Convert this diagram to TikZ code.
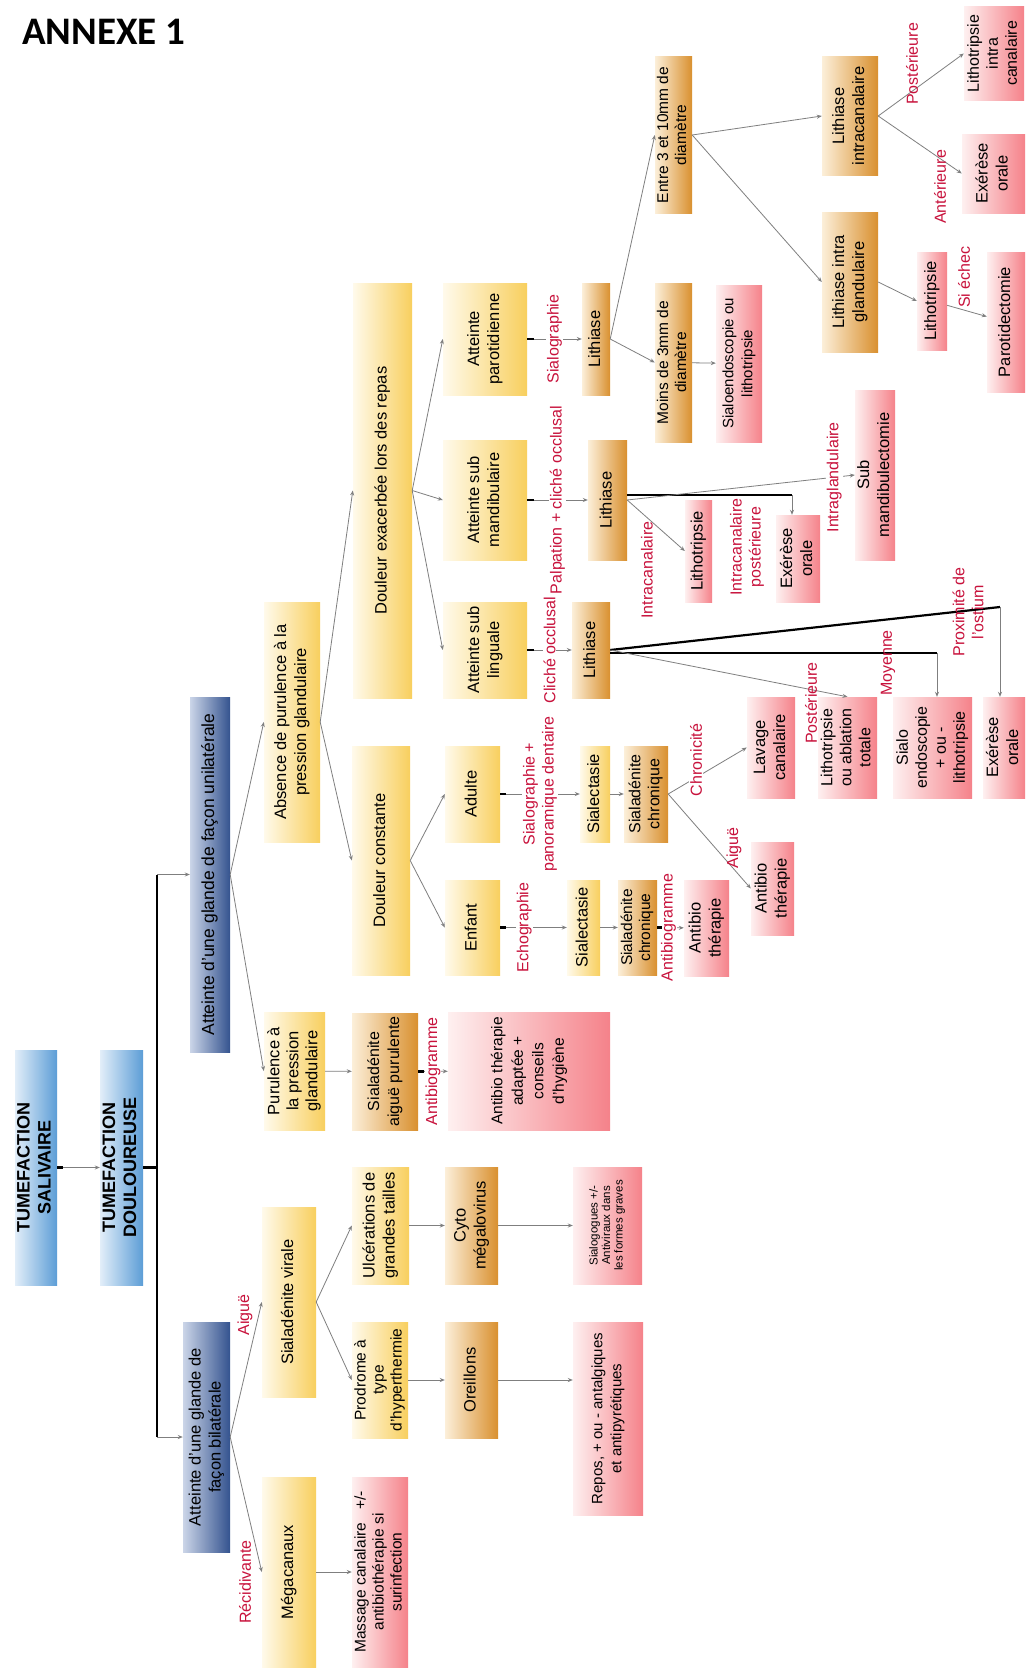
\documentclass[tikz,border=0pt]{standalone}
\usepackage{fontspec}
\setmainfont{Liberation Sans}
\newfontfamily\titlefont{Carlito}
\usepackage{graphicx}
\usepackage{xcolor}
\usepackage{tikz}
\usetikzlibrary{arrows.meta,positioning}
\definecolor{yelL}{HTML}{FFFAEB}
\definecolor{yelR}{HTML}{F8CF5E}
\definecolor{orgL}{HTML}{FCEFD9}
\definecolor{orgR}{HTML}{D9902F}
\definecolor{pnkL}{HTML}{FEF0F0}
\definecolor{pnkR}{HTML}{F5828A}
\definecolor{bluL}{HTML}{E2EEF9}
\definecolor{bluR}{HTML}{5C9DD6}
\definecolor{navL}{HTML}{CBD5E8}
\definecolor{navR}{HTML}{34538F}
\definecolor{labred}{HTML}{C8123C}
\definecolor{lineg}{HTML}{7F7F7F}
\newcommand{\vt}[1]{\rotatebox{90}{\begin{tabular}{@{}c@{}}#1\end{tabular}}}

\begin{document}
\begin{tikzpicture}[x=1pt, y=-1pt,
        cellbox/.style={draw=none, inner sep=0pt, font=\fontsize{16.5}{20}\selectfont},
        ybox/.style={cellbox, left color=yelL, right color=yelR},
        obox/.style={cellbox, left color=orgL, right color=orgR},
        pbox/.style={cellbox, left color=pnkL, right color=pnkR},
        lbox/.style={cellbox, left color=bluL, right color=bluR, font=\fontsize{18}{21}\selectfont\bfseries},
        nbox/.style={cellbox, left color=navL, right color=navR},
        arrow/.style={-{Stealth[length=5pt,width=4pt]}, lineg, line width=0.8pt},
        stub/.style={black, line width=2.5pt},
        bar/.style={black, line width=2.2pt},
        elabel/.style={rotate=90, text=labred, font=\fontsize{16}{19}\selectfont, inner sep=1pt, align=center},
        onlabel/.style={elabel, fill=white}
    ]
        \fill[white] (0,0) rectangle (1029,1670);
        \useasboundingbox (0,0) rectangle (1029,1670);

        \node[anchor=base west, inner sep=0pt, font=\titlefont\bfseries\fontsize{39}{39}\selectfont] (title) at (22,45) {ANNEXE 1};

        % root and first split
        \node[lbox, minimum width=42pt, minimum height=235pt] (sal) at (36,1167.5) {\vt{TUMEFACTION\\SALIVAIRE}};
        \node[lbox, minimum width=43pt, minimum height=235pt] (dou) at (121.5,1167.5) {\vt{TUMEFACTION\\DOULOUREUSE}};
        \node[nbox, minimum width=40pt, minimum height=355pt, font=\fontsize{17.5}{21}\selectfont] (uni) at (210,874.5) {\vt{Atteinte d'une glande de façon unilatérale}};
        \node[nbox, minimum width=47pt, minimum height=230pt] (bil) at (206.5,1437) {\vt{Atteinte d'une glande de\\façon bilatérale}};

        \node[ybox, minimum width=56pt, minimum height=240pt] (abs) at (292,722) {\vt{Absence de purulence à la\\pression glandulaire}};
        \node[ybox, minimum width=61pt, minimum height=118pt, font=\fontsize{16.5}{19}\selectfont] (pur) at (294.5,1071) {\vt{Purulence à\\la pression\\glandulaire}};
        \node[ybox, minimum width=54pt, minimum height=190pt] (vir) at (289,1302) {\vt{Sialadénite virale}};
        \node[ybox, minimum width=54pt, minimum height=190pt] (meg) at (289,1572) {\vt{Mégacanaux}};

        \node[ybox, minimum width=59pt, minimum height=415pt] (dex) at (382.5,490.5) {\vt{Douleur exacerbée lors des repas}};
        \node[ybox, minimum width=58pt, minimum height=229pt] (dco) at (381,860.5) {\vt{Douleur constante}};
        \node[obox, minimum width=66pt, minimum height=117pt, font=\fontsize{16}{20}\selectfont] (sap) at (385,1071.5) {\vt{Sialadénite\\aiguë purulente}};
        \node[ybox, minimum width=57pt, minimum height=117pt] (ulc) at (380.5,1225.5) {\vt{Ulcérations de\\grandes tailles}};
        \node[ybox, minimum width=56pt, minimum height=116pt, font=\fontsize{15.5}{18}\selectfont] (pro) at (380,1380) {\vt{Prodrome à\\type\\d'hyperthermie}};
        \node[pbox, minimum width=56pt, minimum height=190pt, font=\fontsize{15.5}{18}\selectfont] (mas) at (380,1572) {\vt{Massage canalaire\ \ \ +/-\\antibiothérapie si\\surinfection}};

        % atteintes and children
        \node[ybox, minimum width=84pt, minimum height=112pt] (apa) at (485,339) {\vt{Atteinte\\parotidienne}};
        \node[ybox, minimum width=84pt, minimum height=120pt] (asm) at (485,500) {\vt{Atteinte sub\\mandibulaire}};
        \node[ybox, minimum width=84pt, minimum height=96pt] (asl) at (485,650) {\vt{Atteinte sub\\linguale}};
        \node[ybox, minimum width=55pt, minimum height=96pt] (adu) at (472.5,794) {\vt{Adulte}};
        \node[ybox, minimum width=55pt, minimum height=95pt] (enf) at (472.5,927.5) {\vt{Enfant}};
        \node[pbox, minimum width=162pt, minimum height=118pt, font=\fontsize{15.5}{20.5}\selectfont] (aba) at (529,1071) {\vt{Antibio thérapie\\adaptée +\\conseils\\d'hygiène}};
        \node[obox, minimum width=53pt, minimum height=117pt] (cyt) at (471.5,1225.5) {\vt{Cyto\\mégalovirus}};
        \node[obox, minimum width=53pt, minimum height=116pt] (ore) at (471.5,1380) {\vt{Oreillons}};

        \node[obox, minimum width=28pt, minimum height=112pt] (lip) at (596,339) {\vt{Lithiase}};
        \node[obox, minimum width=39pt, minimum height=120pt] (lism) at (607.5,500) {\vt{Lithiase}};
        \node[obox, minimum width=38pt, minimum height=96pt] (lisl) at (591,650) {\vt{Lithiase}};
        \node[ybox, minimum width=30pt, minimum height=96pt] (sea) at (595,794) {\vt{Sialectasie}};
        \node[obox, minimum width=44pt, minimum height=96pt, font=\fontsize{16}{19}\selectfont] (sca) at (646,794) {\vt{Sialadénite\\chronique}};
        \node[ybox, minimum width=33pt, minimum height=95pt] (sec) at (583.5,927.5) {\vt{Sialectasie}};
        \node[obox, minimum width=39pt, minimum height=95pt, font=\fontsize{15.5}{18}\selectfont] (scc) at (637.5,927.5) {\vt{Sialadénite\\chronique}};
        \node[pbox, minimum width=69pt, minimum height=117pt, font=\fontsize{11.5}{12.5}\selectfont] (sgo) at (607.5,1225.5) {\vt{Sialogogues +/-\\Antiviraux dans\\les formes graves}};
        \node[pbox, minimum width=70pt, minimum height=193pt, font=\fontsize{15}{19}\selectfont] (rep) at (608,1418.5) {\vt{Repos, + ou - antalgiques\\et antipyrétiques}};

        % parotid branch
        \node[obox, minimum width=37pt, minimum height=156pt, font=\fontsize{15.5}{18}\selectfont] (ent) at (673.5,135) {\vt{Entre 3 et 10mm de\\diamètre}};
        \node[obox, minimum width=37pt, minimum height=159pt, font=\fontsize{15.5}{18}\selectfont] (moi) at (673.5,362.5) {\vt{Moins de 3mm de\\diamètre}};
        \node[pbox, minimum width=46pt, minimum height=157pt, font=\fontsize{15}{19}\selectfont] (sen) at (739,363.5) {\vt{Sialoendoscopie ou\\lithotripsie}};
        \node[obox, minimum width=56pt, minimum height=118pt] (lic) at (850,116) {\vt{Lithiase\\intracanalaire}};
        \node[obox, minimum width=56pt, minimum height=140pt] (lig) at (850,282) {\vt{Lithiase intra\\glandulaire}};
        \node[pbox, minimum width=60pt, minimum height=93pt, font=\fontsize{16}{19}\selectfont] (lit) at (994,53.5) {\vt{Lithotripsie\\intra\\canalaire}};
        \node[pbox, minimum width=63pt, minimum height=79pt] (exp) at (993.5,173.5) {\vt{Exérèse\\orale}};
        \node[pbox, minimum width=30pt, minimum height=98pt] (ltg) at (932,301) {\vt{Lithotripsie}};
        \node[pbox, minimum width=38pt, minimum height=140pt] (par) at (1006,322) {\vt{Parotidectomie}};

        % sub mandibular and sub lingual branch
        \node[pbox, minimum width=27pt, minimum height=102pt] (ltp) at (698.5,551) {\vt{Lithotripsie}};
        \node[pbox, minimum width=44pt, minimum height=87pt] (exs) at (798,558.5) {\vt{Exérèse\\orale}};
        \node[pbox, minimum width=38pt, minimum height=170pt] (smd) at (875,475) {\vt{Sub\\mandibulectomie}};
        \node[pbox, minimum width=59pt, minimum height=101pt, font=\fontsize{16}{19}\selectfont] (loa) at (847.5,747.5) {\vt{Lithotripsie\\ou ablation\\totale}};
        \node[pbox, minimum width=79pt, minimum height=101pt, font=\fontsize{16}{19}\selectfont] (sel) at (932.5,747.5) {\vt{Sialo\\endoscopie\\+ ou -\\lithotripsie}};
        \node[pbox, minimum width=42pt, minimum height=101pt] (exl) at (1004,747.5) {\vt{Exérèse\\orale}};

        % adult and child branch
        \node[pbox, minimum width=48pt, minimum height=101pt] (lav) at (771,747.5) {\vt{Lavage\\canalaire}};
        \node[pbox, minimum width=43pt, minimum height=93pt] (ata) at (772.5,888.5) {\vt{Antibio\\thérapie}};
        \node[pbox, minimum width=45pt, minimum height=96pt] (atc) at (706.5,928) {\vt{Antibio\\thérapie}};

        % connectors
        \draw[arrow] (sal) -- (dou);
        \coordinate (brmid) at (157,1167.5);
        \coordinate (brtop) at (157,874.5);
        \coordinate (brbot) at (157,1437);
        \draw[bar] (dou.east) -- (brmid);
        \draw[bar] (brtop) -- (brbot);
        \draw[arrow] (brtop) -- (uni);
        \draw[arrow] (brbot) -- (bil);

        \draw[arrow] (uni.east) -- (abs.west);
        \draw[arrow] (uni.east) -- (pur.west);
        \draw[arrow] (abs.east) -- (dex.west);
        \draw[arrow] (abs.east) -- (dco.west);
        \draw[arrow] (pur) -- (sap);
        \draw[arrow] (sap) -- node[onlabel] (lbab1) {Antibiogramme} (aba);

        \draw[arrow] (dex.east) -- (apa.west);
        \draw[arrow] (dex.east) -- (asm.west);
        \draw[arrow] (dex.east) -- (asl.west);
        \draw[arrow] (apa) -- node[onlabel] (lbsia) {Sialographie} (lip);
        \draw[arrow] (asm) -- node[onlabel] (lbpal) {Palpation + cliché occlusal} (lism);
        \draw[arrow] (asl) -- node[onlabel] (lbcli) {Cliché occlusal} (lisl);

        \draw[arrow] (dco.east) -- (adu.west);
        \draw[arrow] (dco.east) -- (enf.west);
        \draw[arrow] (adu) -- node[onlabel] (lbpan) {Sialographie +\\panoramique dentaire} (sea);
        \draw[arrow] (sea) -- (sca);
        \draw[arrow] (sca.east) -- (lav.west);
        \draw[arrow] (sca.east) -- (ata.west);
        \node[onlabel] (lbchr) at (696,760) {Chronicité};
        \node[elabel] (lbaig) at (734,848) {Aiguë};
        \draw[arrow] (enf) -- node[onlabel, pos=0.36] (lbech) {Echographie} (sec);
        \draw[arrow] (sec) -- (scc);
        \draw[arrow] (scc) -- node[onlabel, pos=0.42] (lbab2) {Antibiogramme} (atc);

        \draw[arrow] (lip.east) -- (ent.west);
        \draw[arrow] (lip.east) -- (moi.west);
        \draw[arrow] (moi) -- (sen);
        \draw[arrow] (ent.east) -- (lic.west);
        \draw[arrow] (ent.east) -- (lig.west);
        \draw[arrow] (lic.east) -- (lit.west);
        \draw[arrow] (lic.east) -- (exp.west);
        \node[elabel] (lbpos) at (912,64) {Postérieure};
        \node[elabel] (lbant) at (940,187) {Antérieure};
        \draw[arrow] (lig.east) -- (ltg.west);
        \draw[arrow] (ltg) -- (par);
        \node[elabel] (lbsie) at (964,277) {Si échec};

        \coordinate (kexs) at (792,495);
        \draw[bar] (lism.east |- kexs) -- (kexs);
        \draw[arrow] (kexs) -- (kexs |- exs.north);
        \draw[arrow] (lism.east) -- node[onlabel, pos=0.91] (lbigl) {Intraglandulaire} (smd.west);
        \node[elabel] (lbicp) at (747,547) {Intracanalaire\\postérieure};
        \draw[arrow] (lism.east) -- (ltp.west);
        \node[elabel] (lbica) at (647,570) {Intracanalaire};

        \coordinate (kexl) at (1000,607);
        \coordinate (ksel) at (937,653);
        \draw[bar] (lisl.east) -- (kexl);
        \draw[bar] (lisl.east |- ksel) -- (ksel);
        \draw[arrow] (kexl) -- (kexl |- exl.north);
        \draw[arrow] (ksel) -- (ksel |- sel.north);
        \draw[arrow] (lisl.east) -- (loa.north);
        \node[elabel] (lbpo2) at (811,703) {Postérieure};
        \node[elabel] (lbmoy) at (888,663) {Moyenne};
        \node[elabel] (lbpro) at (968,612) {Proximité de\\l'ostium};

        \draw[arrow] (bil.east) -- (vir.west);
        \draw[arrow] (bil.east) -- (meg.west);
        \node[elabel] (lbag2) at (245,1315) {Aiguë};
        \node[elabel] (lbrec) at (245,1582) {Récidivante};
        \draw[arrow] (vir.east) -- (ulc.west);
        \draw[arrow] (vir.east) -- (pro.west);
        \draw[arrow] (ulc) -- (cyt);
        \draw[arrow] (cyt) -- (sgo);
        \draw[arrow] (pro) -- (ore);
        \draw[arrow] (ore.east) -- (ore.east -| rep.west);
        \draw[arrow] (meg) -- (mas);

        % short black stubs
        \draw[stub] (sal.east) -- ++(6,0);
        \draw[stub] (apa.east) -- ++(7,0);
        \draw[stub] (asm.east) -- ++(7,0);
        \draw[stub] (asl.east) -- ++(7,0);
        \draw[stub] (adu.east) -- ++(6,0);
        \draw[stub] (enf.east) -- ++(6,0);
        \draw[stub] (scc.east) -- ++(5,0);
        \draw[stub] (sap.east) -- ++(6,0);
    \end{tikzpicture}
\end{document}
